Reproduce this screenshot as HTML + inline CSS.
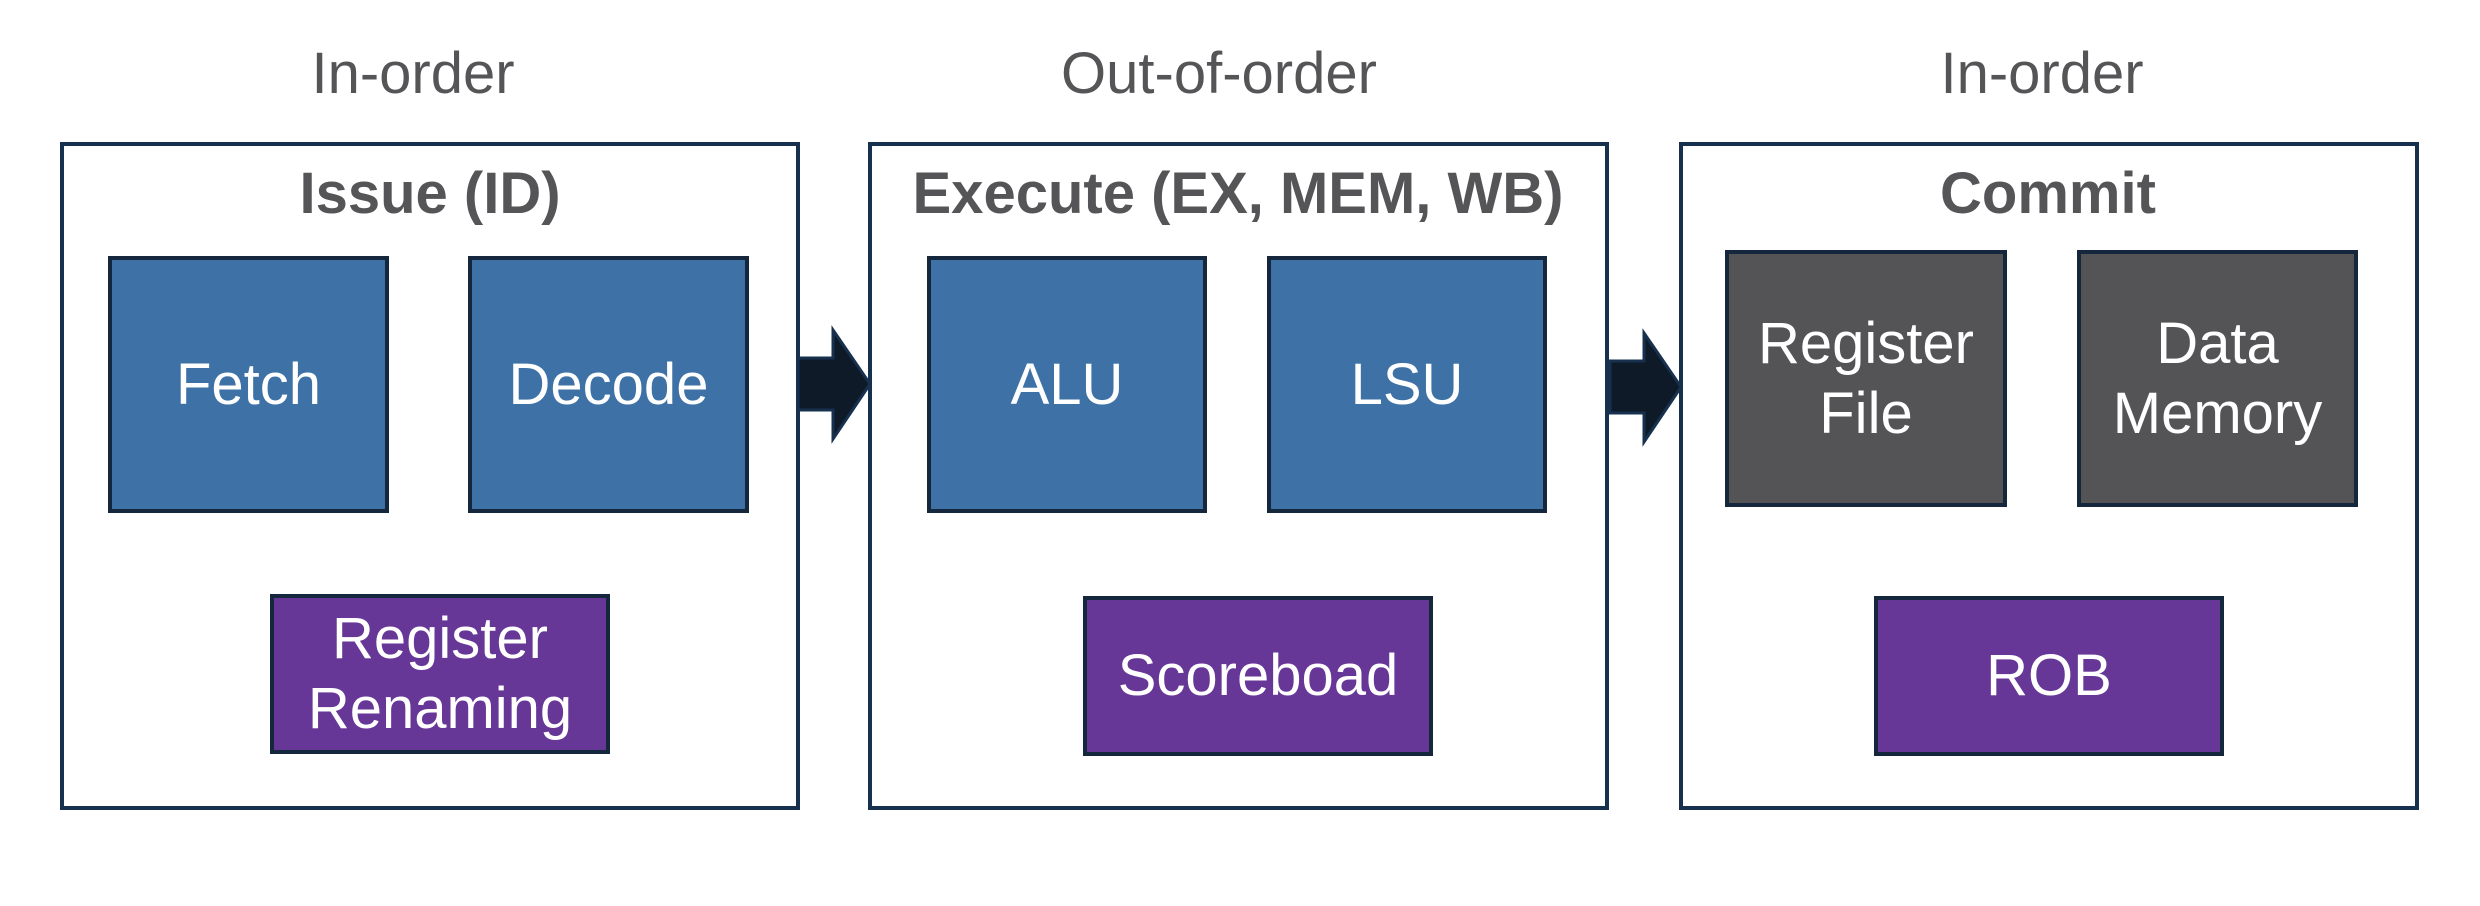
<!DOCTYPE html>
<html><head><style>
body{margin:0;width:2480px;height:906px;background:#fff;position:relative;overflow:hidden;font-family:"Liberation Sans",Arial,sans-serif}
.b{position:absolute;box-sizing:border-box;border:4px solid #17304d}
.n{position:absolute;box-sizing:border-box;border:4px solid #14273d;color:#fff;font-size:58px;display:flex;align-items:center;justify-content:center;text-align:center;line-height:1.2}
.blue{background:#3e72a6}.pur{background:#663797}.gray{background:#545457}
.t{position:absolute;color:#555558;font-size:58px;text-align:center;width:800px;margin-left:-400px}
.h{position:absolute;color:#555558;font-size:58px;font-weight:bold;text-align:center;width:900px;margin-left:-450px}
</style></head><body>
<div class="t" style="left:413px;top:40px">In-order</div>
<div class="t" style="left:1219px;top:40px">Out-of-order</div>
<div class="t" style="left:2042px;top:40px">In-order</div>

<div class="b" style="left:60px;top:142px;width:740px;height:668px"></div>
<div class="b" style="left:868px;top:142px;width:741px;height:668px"></div>
<div class="b" style="left:1679px;top:142px;width:740px;height:668px"></div>

<div class="h" style="left:430px;top:160px">Issue (ID)</div>
<div class="h" style="left:1238px;top:160px">Execute (EX, MEM, WB)</div>
<div class="h" style="left:2048px;top:160px">Commit</div>

<div class="n blue" style="left:108px;top:256px;width:281px;height:257px">Fetch</div>
<div class="n blue" style="left:468px;top:256px;width:281px;height:257px">Decode</div>
<div class="n pur" style="left:270px;top:594px;width:340px;height:160px">Register<br>Renaming</div>

<div class="n blue" style="left:927px;top:256px;width:280px;height:257px">ALU</div>
<div class="n blue" style="left:1267px;top:256px;width:280px;height:257px">LSU</div>
<div class="n pur" style="left:1083px;top:596px;width:350px;height:160px">Scoreboad</div>

<div class="n gray" style="left:1725px;top:250px;width:282px;height:257px">Register<br>File</div>
<div class="n gray" style="left:2077px;top:250px;width:281px;height:257px">Data<br>Memory</div>
<div class="n pur" style="left:1874px;top:596px;width:350px;height:160px">ROB</div>

<svg style="position:absolute;left:0;top:0" width="2480" height="906">
<polygon points="798,358 833,358 833,330 870,384 833,439 833,410 798,410" fill="#0f1a28" stroke="#17304d" stroke-width="3"/>
<polygon points="1610,361 1644,361 1644,333 1681,387 1644,442 1644,413 1610,413" fill="#0f1a28" stroke="#17304d" stroke-width="3"/>
</svg>
</body></html>
